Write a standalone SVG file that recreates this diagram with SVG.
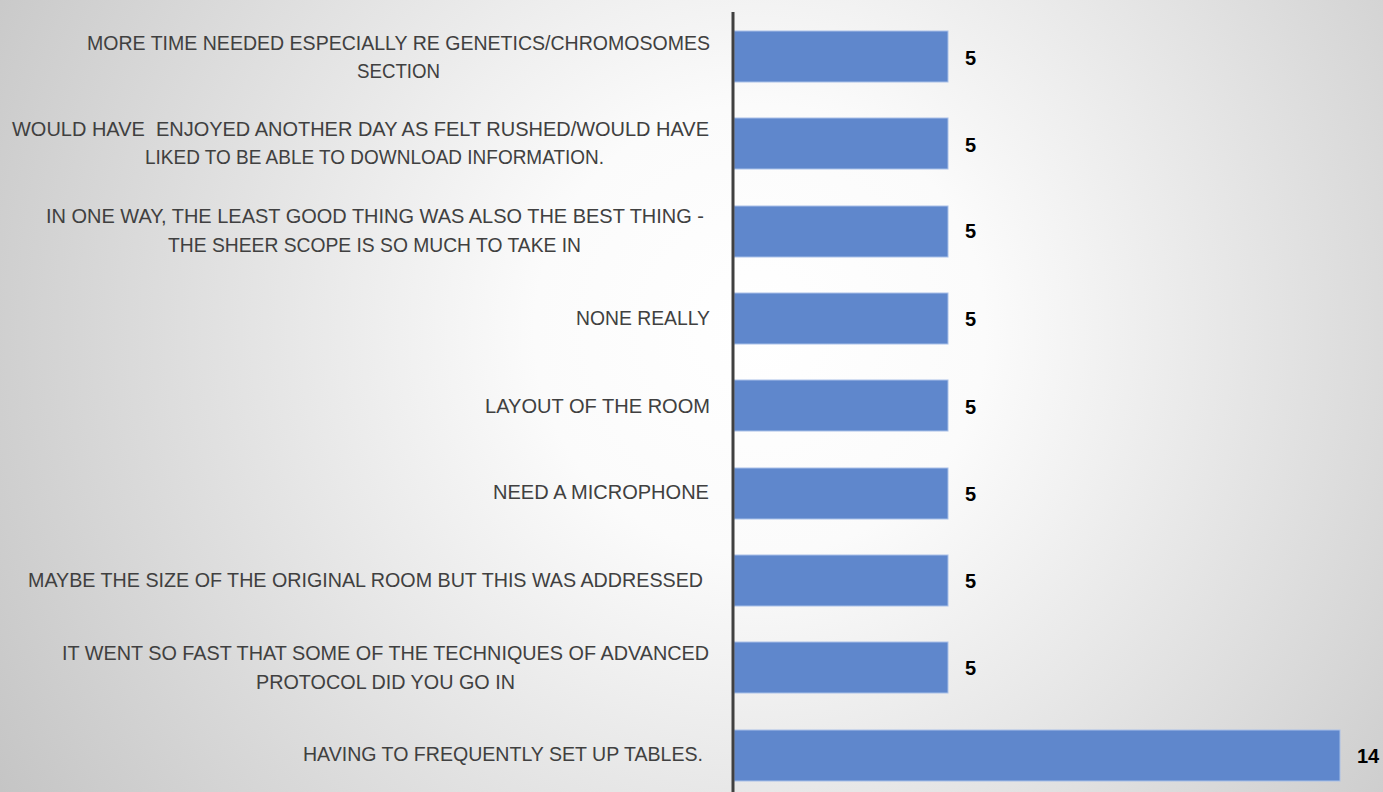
<svg xmlns="http://www.w3.org/2000/svg" width="1383" height="792" viewBox="0 0 1383 792">
<defs>
<radialGradient id="bg" gradientUnits="userSpaceOnUse" cx="760" cy="330" r="900">
<stop offset="0" stop-color="#ffffff"/>
<stop offset="0.25" stop-color="#fbfbfb"/>
<stop offset="1" stop-color="#c4c4c4"/>
</radialGradient>
<style>
.lbl{font-family:"Liberation Sans Narrow","Liberation Sans",Arial,sans-serif;font-size:21px;fill:#404040}
.val{font-family:"Liberation Sans","Open Sans",Arial,sans-serif;font-size:20px;font-weight:bold;fill:#000}
.bar{fill:#5f87cc;stroke:#a9c0e8;stroke-width:1}
</style>
</defs>
<rect width="1383" height="792" fill="url(#bg)"/>
<g id="labels">
<g id="label1"><text class="lbl" x="87" y="50" textLength="623" lengthAdjust="spacingAndGlyphs">MORE TIME NEEDED ESPECIALLY RE GENETICS/CHROMOSOMES</text><text class="lbl" x="357" y="78" textLength="83" lengthAdjust="spacingAndGlyphs">SECTION</text></g>
<g id="label2"><text class="lbl" x="12" y="136" textLength="697" lengthAdjust="spacingAndGlyphs" xml:space="preserve" style="white-space:pre">WOULD HAVE  ENJOYED ANOTHER DAY AS FELT RUSHED/WOULD HAVE</text><text class="lbl" x="145" y="164" textLength="459" lengthAdjust="spacingAndGlyphs">LIKED TO BE ABLE TO DOWNLOAD INFORMATION.</text></g>
<g id="label3"><text class="lbl" x="46" y="223" textLength="658" lengthAdjust="spacingAndGlyphs">IN ONE WAY, THE LEAST GOOD THING WAS ALSO THE BEST THING -</text><text class="lbl" x="168" y="252" textLength="413" lengthAdjust="spacingAndGlyphs">THE SHEER SCOPE IS SO MUCH TO TAKE IN</text></g>
<g id="label4"><text class="lbl" x="576" y="325" textLength="134" lengthAdjust="spacingAndGlyphs">NONE REALLY</text></g>
<g id="label5"><text class="lbl" x="485" y="413" textLength="225" lengthAdjust="spacingAndGlyphs">LAYOUT OF THE ROOM</text></g>
<g id="label6"><text class="lbl" x="493" y="499" textLength="216" lengthAdjust="spacingAndGlyphs">NEED A MICROPHONE</text></g>
<g id="label7"><text class="lbl" x="28" y="587" textLength="675" lengthAdjust="spacingAndGlyphs">MAYBE THE SIZE OF THE ORIGINAL ROOM BUT THIS WAS ADDRESSED</text></g>
<g id="label8"><text class="lbl" x="62" y="660" textLength="647" lengthAdjust="spacingAndGlyphs">IT WENT SO FAST THAT SOME OF THE TECHNIQUES OF ADVANCED</text><text class="lbl" x="256" y="689" textLength="259" lengthAdjust="spacingAndGlyphs">PROTOCOL DID YOU GO IN</text></g>
<g id="label9"><text class="lbl" x="303" y="761" textLength="400" lengthAdjust="spacingAndGlyphs">HAVING TO FREQUENTLY SET UP TABLES.</text></g>
</g>
<g id="bars">
<rect class="bar" x="734" y="31" width="214" height="51"/>
<rect class="bar" x="734" y="118" width="214" height="51"/>
<rect class="bar" x="734" y="206" width="214" height="51"/>
<rect class="bar" x="734" y="293" width="214" height="51"/>
<rect class="bar" x="734" y="380" width="214" height="51"/>
<rect class="bar" x="734" y="468" width="214" height="51"/>
<rect class="bar" x="734" y="555" width="214" height="51"/>
<rect class="bar" x="734" y="642" width="214" height="51"/>
<rect class="bar" x="734" y="730" width="606" height="51"/>
</g>
<g id="values">
<text class="val" x="965" y="65">5</text>
<text class="val" x="965" y="152">5</text>
<text class="val" x="965" y="238">5</text>
<text class="val" x="965" y="326">5</text>
<text class="val" x="965" y="414">5</text>
<text class="val" x="965" y="501">5</text>
<text class="val" x="965" y="588">5</text>
<text class="val" x="965" y="675">5</text>
<text class="val" x="1357" y="763">14</text>
</g>
<g id="axis">
<line x1="733" y1="12" x2="733" y2="792" stroke="#404040" stroke-width="3"/>
</g>
</svg>
